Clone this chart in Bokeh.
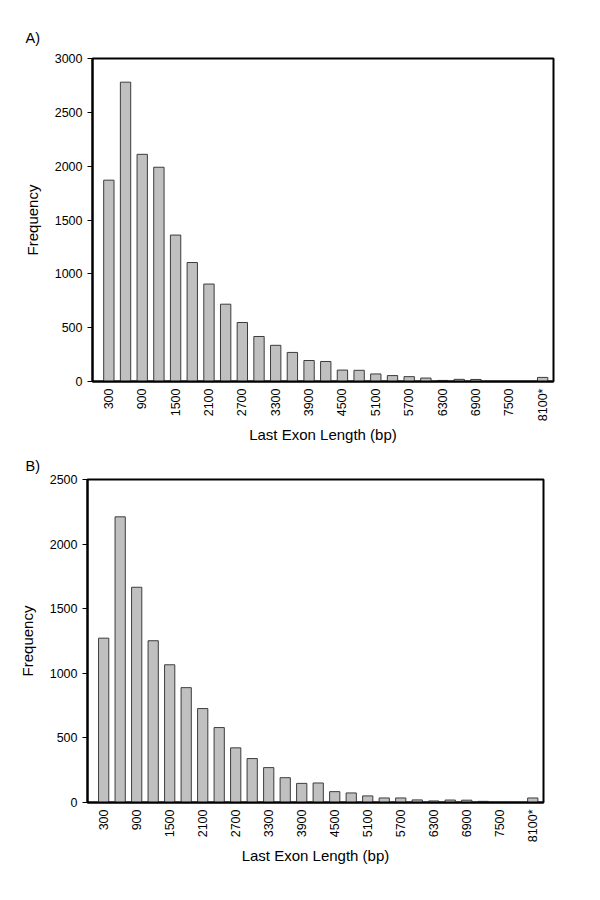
import math
from bokeh.plotting import figure
from bokeh.layouts import column
from bokeh.models import Range1d, FixedTicker, ColumnDataSource
from bokeh.embed import file_html
from bokeh.resources import INLINE

# ---- data ----
bins = ["300", "600", "900", "1200", "1500", "1800", "2100", "2400", "2700",
        "3000", "3300", "3600", "3900", "4200", "4500", "4800", "5100", "5400",
        "5700", "6000", "6300", "6600", "6900", "7200", "7500", "7800", "8100"]

freq_a = [1870, 2780, 2110, 1990, 1360, 1105, 905, 718, 548,
          418, 336, 270, 195, 186, 106, 104, 70, 55,
          45, 32, 10, 20, 19, 0, 0, 0, 38]

freq_b = [1272, 2211, 1666, 1252, 1066, 889, 727, 580, 423,
          340, 270, 192, 148, 151, 84, 74, 51, 35,
          35, 20, 12, 19, 18, 9, 0, 0, 35]

tick_bins = ["300", "900", "1500", "2100", "2700", "3300", "3900",
             "4500", "5100", "5700", "6300", "6900", "7500", "8100"]
tick_texts = ["300", "900", "1500", "2100", "2700", "3300", "3900",
              "4500", "5100", "5700", "6300", "6900", "7500", "8100*"]

yticks_a = [0, 500, 1000, 1500, 2000, 2500, 3000]
yticks_b = [0, 500, 1000, 1500, 2000, 2500]

panel_titles = ["A)", "B)"]
x_title = "Last Exon Length (bp)"
y_title = "Frequency"

FONT = "Liberation Sans"


def make_panel(title, freqs, yticks, border_left, border_right, border_top,
               border_bottom, title_offset, title_standoff):
    pos = list(range(len(bins)))
    src = ColumnDataSource(dict(x=pos, top=freqs))
    p = figure(frame_width=461, frame_height=323,
               x_range=Range1d(-0.98, len(bins) - 0.35),
               y_range=Range1d(0, yticks[-1]),
               output_backend="svg", toolbar_location=None,
               min_border_left=border_left, min_border_right=border_right,
               min_border_top=border_top, min_border_bottom=border_bottom,
               title=title)
    p.vbar(x="x", top="top", width=0.62, source=src,
           fill_color="#c0c0c0", line_color="#3c3c3c", line_width=1)

    p.title.align = "left"
    p.title.offset = title_offset
    p.title.standoff = title_standoff
    p.title.text_font = FONT
    p.title.text_font_size = "14.5px"
    p.title.text_font_style = "normal"
    p.title.text_color = "black"

    p.xgrid.visible = False
    p.ygrid.visible = False
    p.outline_line_color = "black"
    p.outline_line_width = 2
    p.background_fill_color = "white"
    p.border_fill_color = "white"

    tpos = [bins.index(b) for b in tick_bins]
    xa = p.xaxis[0]
    xa.ticker = FixedTicker(ticks=tpos)
    xa.major_label_overrides = {t: s for t, s in zip(tpos, tick_texts)}
    xa.major_label_orientation = math.pi / 2
    xa.major_tick_line_color = None
    xa.minor_tick_line_color = None
    xa.major_tick_out = 0
    xa.major_tick_in = 0
    xa.major_label_standoff = 7
    xa.axis_line_width = 2
    xa.axis_line_color = "black"
    xa.major_label_text_font = FONT
    xa.major_label_text_font_size = "12.5px"
    xa.major_label_text_color = "black"
    xa.axis_label = x_title
    xa.axis_label_text_font = FONT
    xa.axis_label_text_font_size = "15px"
    xa.axis_label_text_font_style = "normal"
    xa.axis_label_text_color = "black"
    xa.axis_label_standoff = 2

    ya = p.yaxis[0]
    ya.ticker = FixedTicker(ticks=yticks)
    ya.minor_tick_line_color = None
    ya.major_tick_out = 5
    ya.major_tick_in = 0
    ya.major_tick_line_color = "black"
    ya.major_label_standoff = 5
    ya.axis_line_width = 2
    ya.axis_line_color = "black"
    ya.major_label_text_font = FONT
    ya.major_label_text_font_size = "12.5px"
    ya.major_label_text_color = "black"
    ya.axis_label = y_title
    ya.axis_label_text_font = FONT
    ya.axis_label_text_font_size = "15px"
    ya.axis_label_text_font_style = "normal"
    ya.axis_label_text_color = "black"
    ya.axis_label_standoff = 11
    return p


pa = make_panel(panel_titles[0], freq_a, yticks_a, 92, 39, 58, 67, -67, 25)
pb = make_panel(panel_titles[1], freq_b, yticks_b, 92, 44, 31, 58, -62, 11)
pb.margin = (0, 0, 0, -5)

layout = column(pa, pb, spacing=0)
open("out.html", "w").write(file_html(layout, INLINE))
